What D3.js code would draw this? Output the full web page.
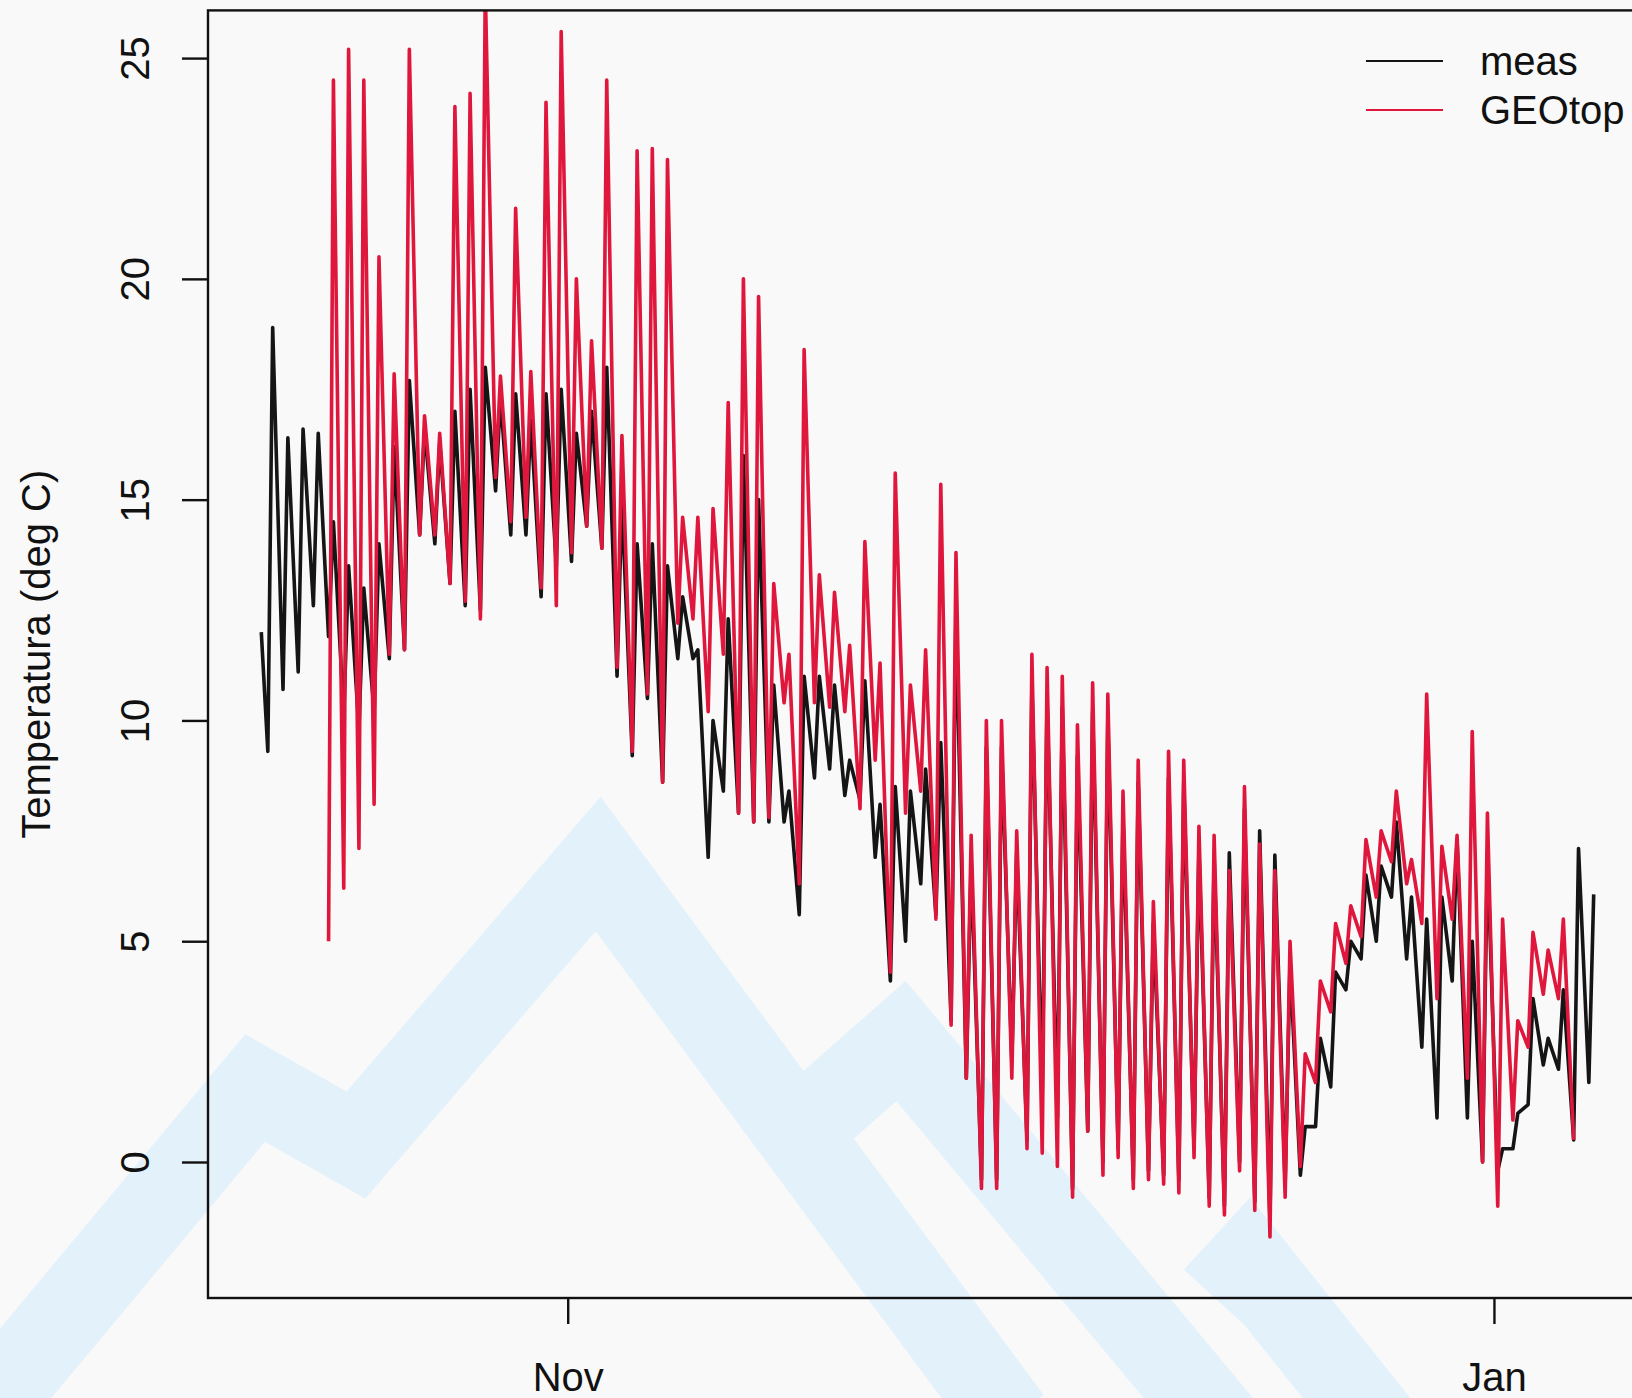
<!DOCTYPE html>
<html lang="it">

<head>
    <meta charset="utf-8">
    <title>meas vs GEOtop</title>
    <script src="https://d3js.org/d3.v7.min.js"></script>
    <style>
        body {
            margin: 0;
            background: #f9f9f9;
        }

        svg {
            display: block;
            font-family: "Liberation Sans", Arial, sans-serif;
        }

        .axis text {
            font-size: 40px;
            fill: #111;
        }

        .axis line {
            stroke: #111;
            stroke-width: 2.4;
        }
    </style>
</head>

<body>
    <div id="chart"></div>

    <script type="text/javascript">
        // ---- data (daily min / max, day 0 = 1 Nov) ----
        var refDay = "2014-11-01";

        var measFirstDay = -20;
        var measLeadValue = 12.0;
        var measMin = [9.3, 10.7, 11.1, 12.6, 11.9, 10.1, 9.8, 10.2, 11.4, 11.6,
            14.2, 14.0, 13.1, 12.6, 12.5, 15.2, 14.2, 14.2, 12.8, 13.5,
            13.6, 14.4, 13.9, 11.0, 9.2, 10.5, 8.6, 11.4, 11.4, 6.9,
            8.4, 7.9, 7.7, 7.7, 7.7, 5.6, 8.7, 8.9, 8.3, 8.2,
            6.9, 4.1, 5.0, 6.3, 5.6, 3.2, 1.9, -0.4, -0.4, 2.3,
            0.5, 1.5, 1.0, -0.6, 0.7, 0.0, 0.3, -0.4, -0.2, -0.3,
            -0.4, 0.3, -0.8, -1.0, 0.0, -0.9, -1.3, -0.5, -0.3, 0.8,
            1.7, 3.9, 4.6, 5.0, 6.0, 4.6, 2.6, 1.0, 4.1, 1.0,
            0.0, -0.2, 0.3, 1.3, 2.2, 2.1, 0.5, 1.8
        ];
        var measMax = [18.9, 16.4, 16.6, 16.5, 14.5, 13.5, 13.0, 14.0, 16.2, 17.7,
            16.6, 16.3, 17.0, 17.5, 18.0, 17.3, 17.4, 16.8, 17.4, 17.5,
            16.5, 17.0, 18.0, 15.0, 14.0, 14.0, 13.5, 12.8, 11.6, 10.0,
            12.3, 16.0, 15.0, 10.8, 8.4, 11.0, 11.0, 10.8, 9.1, 10.9,
            8.1, 8.5, 8.4, 8.9, 9.5, 12.5, 6.8, 9.4, 9.4, 7.0,
            10.8, 10.5, 10.3, 9.2, 10.2, 10.0, 7.8, 8.6, 5.4, 8.7,
            8.6, 7.1, 6.9, 7.0, 8.0, 7.5, 6.95, 4.5, 0.8, 2.8,
            4.3, 5.0, 6.5, 6.7, 7.7, 6.0, 5.5, 6.0, 7.3, 5.0,
            7.0, 0.3, 1.1, 3.7, 2.8, 3.9, 7.1, 6.06
        ];

        var geoFirstDay = -16;
        var geoMin = [5.0, 6.2, 7.1, 8.1, 11.5, 11.6, 14.2, 14.2, 13.1, 12.7,
            12.3, 15.5, 14.5, 14.6, 13.0, 12.6, 13.8, 14.4, 13.9, 11.2,
            9.3, 10.6, 8.6, 12.2, 12.3, 10.2, 11.5, 7.9, 7.7, 7.8,
            10.4, 6.3, 10.4, 10.3, 10.2, 8.0, 9.1, 4.3, 7.9, 8.4,
            5.5, 3.1, 1.9, -0.6, -0.6, 1.9, 0.3, 0.2, -0.1, -0.8,
            0.7, -0.3, 0.1, -0.6, -0.4, -0.5, -0.7, 0.1, -1.0, -1.2,
            -0.2, -1.1, -1.7, -0.8, -0.1, 1.8, 3.4, 4.5, 5.1, 6.0,
            6.8, 6.3, 5.4, 3.7, 5.5, 1.9, 0.0, -1.0, 0.95, 2.6,
            3.8, 3.7, 0.5
        ];
        var geoMax = [24.5, 25.2, 24.5, 20.5, 17.85, 25.2, 16.9, 16.5, 23.9, 24.2,
            26.6, 17.8, 21.6, 17.9, 24.0, 25.6, 20.0, 18.6, 24.5, 16.45,
            22.9, 22.95, 22.7, 14.6, 14.6, 14.8, 17.2, 20.0, 19.6, 13.1,
            11.5, 18.4, 13.3, 12.9, 11.7, 14.05, 11.3, 15.6, 10.8, 11.6,
            15.35, 13.8, 7.4, 10.0, 10.0, 7.5, 11.5, 11.2, 11.0, 9.9,
            10.85, 10.6, 8.4, 9.1, 5.9, 9.3, 9.1, 7.6, 7.4, 6.6,
            8.5, 7.2, 6.6, 5.0, 2.45, 4.1, 5.4, 5.8, 7.3, 7.5,
            8.4, 6.85, 10.6, 7.15, 7.4, 9.75, 7.9, 5.5, 3.2, 5.2,
            4.8, 5.5
        ];

        var seriesNames = ["meas", "GEOtop"];
        var yLimits = [-2, 25];
        var yTicks = [0, 5, 10, 15, 20, 25];
        var xTickDates = ["2014-11-01", "2015-01-01"];
        var yTitle = "Temperatura (deg C)";

        // ---- drawing vars ----
        var width = 1632;
        var height = 1398;
        var plotLeft = 208;
        var plotRight = 1647;
        var plotTop = 10.4;
        var plotBottom = 1298;
        var colors = ["#151515", "#e0173c"];
        var svg, xScale, yScale;
        var dayMs = 86400000;
        var day0 = Date.parse(refDay + "T00:00:00Z");
        var measPts, geoPts;

        init_canvas();
        draw_watermark();
        draw_series();
        draw_box_axes();
        draw_legend();

        function toDate(d) {
            return new Date(day0 + d * dayMs);
        }

        // min in the early morning, max just after midday
        function build_series(firstDay, mins, maxs, lead) {
            var pts = [];
            if (lead != null) pts.push({ t: toDate(firstDay - 0.18), v: lead });
            for (var i = 0; i < mins.length; i++) {
                pts.push({ t: toDate(firstDay + i + 0.25), v: mins[i] });
                if (i < maxs.length) pts.push({ t: toDate(firstDay + i + 0.57), v: maxs[i] });
            }
            return pts;
        }

        function init_canvas() {
            svg = d3.select("#chart").append("svg")
                .attr("width", width)
                .attr("height", height);

            svg.append("rect")
                .attr("width", width)
                .attr("height", height)
                .attr("fill", "#f9f9f9");

            measPts = build_series(measFirstDay, measMin, measMax, measLeadValue);
            geoPts = build_series(geoFirstDay, geoMin, geoMax, null);

            // R style 4% padding on the data range
            var ext = d3.extent(measPts.concat(geoPts), function(p) { return p.t; });
            var pad = (ext[1] - ext[0]) * 0.04;
            xScale = d3.scaleUtc()
                .domain([new Date(+ext[0] - pad), new Date(+ext[1] + pad)])
                .range([plotLeft, plotRight]);

            var span = yLimits[1] - yLimits[0];
            yScale = d3.scaleLinear()
                .domain([yLimits[0] - 0.04 * span, yLimits[1] + 0.04 * span])
                .range([plotBottom, plotTop]);

            svg.append("clipPath").attr("id", "plotClip")
                .append("rect")
                .attr("x", plotLeft)
                .attr("y", plotTop)
                .attr("width", plotRight - plotLeft)
                .attr("height", plotBottom - plotTop);
        }

        function draw_watermark() {
            // faint logo in the background (pixel space)
            var bands = [
                [[-60, 1466], [255, 1088], [356, 1145], [598, 864], [1010, 1420]],
                [[825, 1108], [901, 1041], [1250, 1460]],
                [[1215, 1298], [1248, 1262], [1406, 1460]]
            ];
            svg.append("g").selectAll("polyline")
                .data(bands)
                .enter()
                .append("polyline")
                .attr("points", function(b) { return b.map(function(p) { return p.join(","); }).join(" "); })
                .attr("fill", "none")
                .attr("stroke", "#e3f1fa")
                .attr("stroke-width", 84)
                .attr("stroke-linejoin", "miter")
                .attr("stroke-linecap", "butt");
        }

        function draw_series() {
            var line = d3.line()
                .x(function(p) { return xScale(p.t); })
                .y(function(p) { return yScale(p.v); });

            var g = svg.append("g").attr("clip-path", "url(#plotClip)");

            g.append("path")
                .datum(measPts)
                .attr("d", line)
                .attr("fill", "none")
                .attr("stroke", colors[0])
                .attr("stroke-width", 3.6)
                .attr("stroke-linejoin", "round");

            g.append("path")
                .datum(geoPts)
                .attr("d", line)
                .attr("fill", "none")
                .attr("stroke", colors[1])
                .attr("stroke-width", 3.6)
                .attr("stroke-linejoin", "round");
        }

        function draw_box_axes() {
            var yAxis = d3.axisLeft(yScale)
                .tickValues(yTicks)
                .tickSize(26)
                .tickFormat(d3.format("d"));

            var gy = svg.append("g")
                .attr("class", "axis")
                .attr("transform", "translate(" + plotLeft + ",0)")
                .call(yAxis);
            gy.select(".domain").remove();
            gy.selectAll("text")
                .attr("x", null)
                .attr("dy", null)
                .attr("text-anchor", "middle")
                .attr("transform", "translate(-59,0) rotate(-90)");

            var xAxis = d3.axisBottom(xScale)
                .tickValues(xTickDates.map(function(s) { return new Date(s + "T00:00:00Z"); }))
                .tickSize(26)
                .tickFormat(d3.utcFormat("%b"));

            var gx = svg.append("g")
                .attr("class", "axis")
                .attr("transform", "translate(0," + plotBottom + ")")
                .call(xAxis);
            gx.select(".domain").remove();
            gx.selectAll("text")
                .attr("y", 93)
                .attr("dy", null);

            svg.append("rect")
                .attr("x", plotLeft)
                .attr("y", plotTop)
                .attr("width", plotRight - plotLeft)
                .attr("height", plotBottom - plotTop)
                .attr("fill", "none")
                .attr("stroke", "#111")
                .attr("stroke-width", 2.4);

            svg.append("text")
                .text(yTitle)
                .attr("text-anchor", "middle")
                .attr("transform", "translate(50," + ((plotTop + plotBottom) / 2) + ") rotate(-90)")
                .attr("font-size", "40px")
                .attr("fill", "#111");
        }

        function draw_legend() {
            var lg = svg.append("g");
            var rows = lg.selectAll("g")
                .data(seriesNames)
                .enter()
                .append("g")
                .attr("transform", function(d, i) { return "translate(0," + (61 + i * 49) + ")"; });

            rows.append("line")
                .attr("x1", 1366)
                .attr("x2", 1443)
                .attr("stroke", function(d, i) { return colors[i]; })
                .attr("stroke-width", 2.2);

            rows.append("text")
                .text(function(d) { return d; })
                .attr("x", 1480)
                .attr("y", 14)
                .attr("font-size", "40px")
                .attr("fill", "#111");
        }
    </script>
</body>

</html>
